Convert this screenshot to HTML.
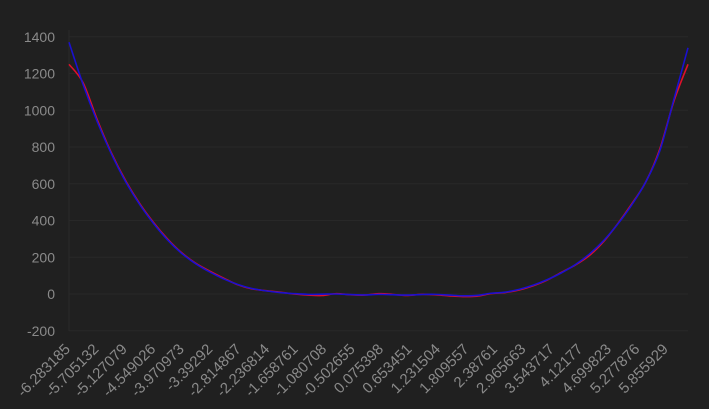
<!DOCTYPE html>
<html><head><meta charset="utf-8"><style>
html,body{margin:0;padding:0;background:#202020;}
svg{display:block;font-family:"Liberation Sans",sans-serif;}
</style></head><body>
<svg id="chart" width="709" height="409" viewBox="0 0 709 409">
<rect width="709" height="409" fill="#202020"/>
<g id="grid"></g><g id="yax"></g><g id="xax"></g><g id="lines"></g>
</svg>
<script>
const yTicks=[-200,0,200,400,600,800,1000,1200,1400];
const xLabels=["-6.283185","-5.705132","-5.127079","-4.549026","-3.970973","-3.39292","-2.814867","-2.236814","-1.658761","-1.080708","-0.502655","0.075398","0.653451","1.231504","1.809557","2.38761","2.965663","3.543717","4.12177","4.699823","5.277876","5.855929"];
const blueVals=[1370,1140,940,765,615,490,385,295,222,165,120,82,52,30,17,8,2,-2,-1,0,-3,-5,-2,-4,-6,-3,-2,-6,-10,-8,4,10,25,48,78,115,160,218,290,380,485,610,780,1060,1340];
const redVals=[1250,1150,950,770,620,495,390,300,225,168,125,86,50,28,18,10,0,-6,-8,2,-4,-6,2,-2,-8,-2,-4,-10,-14,-12,2,8,22,45,76,118,158,210,285,382,490,610,790,1050,1250];
const X0=-6.283185,X1=6.283185;
const sx=v=>69+(v-X0)/(X1-X0)*619;
const sy=v=>294-v/200*36.75;
const NS="http://www.w3.org/2000/svg";
function mk(tag,attrs,parent){const e=document.createElementNS(NS,tag);for(const k in attrs)e.setAttribute(k,attrs[k]);parent.appendChild(e);return e;}
const grid=document.getElementById('grid'),yax=document.getElementById('yax'),xax=document.getElementById('xax'),lines=document.getElementById('lines');
yTicks.forEach(t=>{
  const l=mk('line',{x1:69,x2:688,y1:sy(t),y2:sy(t),stroke:'#282828','stroke-width':1},grid);
  
  
  const tx=mk('text',{x:55,y:sy(t)+5,'text-anchor':'end',fill:'#8a8a8a','font-size':14},yax);
  tx.textContent=t;
  
  
});
const ax=mk('line',{x1:69,x2:69,y1:30,y2:331,stroke:'#2a2a2a','stroke-width':1},grid);


xLabels.forEach(s=>{
  const x=sx(parseFloat(s))+2;
  const tx=mk('text',{x:x,y:350,'text-anchor':'end',fill:'#8a8a8a','font-size':15,transform:`rotate(-45 ${x} 350)`},xax);
  tx.textContent=s;
  
  
});
function draw(vals,color,name){
  const n=vals.length;
  const pts=vals.map((v,i)=>[sx(X0+(X1-X0)*i/(n-1)),sy(v)]);
  let d='M'+pts[0][0]+','+pts[0][1];
  for(let i=1;i<n;i++){
    const p0=pts[Math.max(i-2,0)],p1=pts[i-1],p2=pts[i],p3=pts[Math.min(i+1,n-1)];
    const c1=[p1[0]+(p2[0]-p0[0])/6,p1[1]+(p2[1]-p0[1])/6],c2=[p2[0]-(p3[0]-p1[0])/6,p2[1]-(p3[1]-p1[1])/6];
    d+=`C${c1[0]},${c1[1]} ${c2[0]},${c2[1]} ${p2[0]},${p2[1]}`;
  }
  const p=mk('path',{d:d,fill:'none',stroke:color,'stroke-width':1.6},lines);
  
  
}
draw(redVals,'#e0102a','red-series-line');
draw(blueVals,'#1a10d0','blue-series-line');
</script>
</body></html>
